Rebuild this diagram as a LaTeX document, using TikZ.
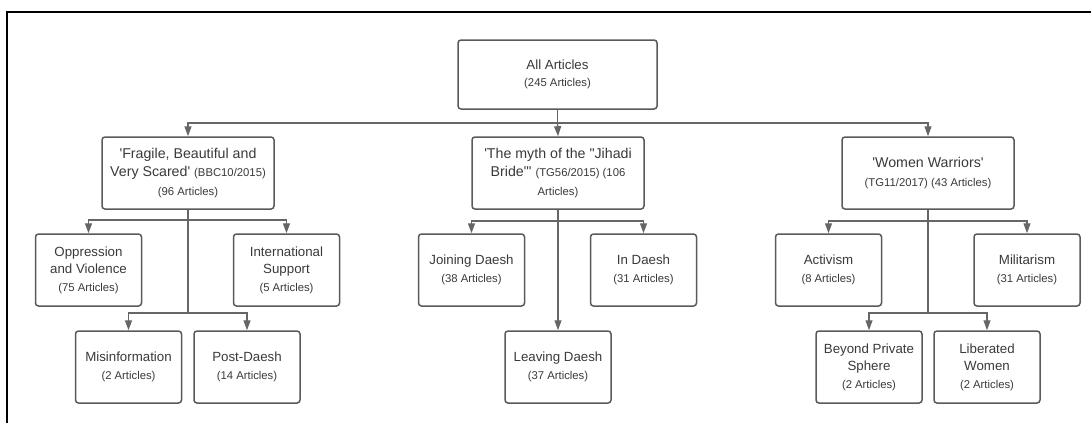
\documentclass[tikz,border=0pt]{standalone}
\usepackage{fontspec}
\setmainfont{Liberation Sans}
\usetikzlibrary{arrows.meta}
\definecolor{boxc}{HTML}{5A5A5A}
\definecolor{linec}{HTML}{666666}
\definecolor{txt}{HTML}{3A3A3A}
\newcommand\bigf{\fontsize{14.2}{18.5}\selectfont}
\newcommand\midf{\fontsize{13.3}{17.5}\selectfont}
\newcommand\smf{\fontsize{11.3}{17.5}\selectfont}
\newcommand\sq{\textquotesingle}
\newcommand\dq{\textquotedbl}
\tikzset{
  box/.style={draw=boxc, line width=1.5pt, rounded corners=3pt, fill=white,
    align=center, text=txt, inner sep=0pt, font=\fontsize{13.3}{17.5}\selectfont},
  rootbox/.style={box, minimum width=199pt, minimum height=69pt},
  topicbox/.style={box, minimum width=172pt, minimum height=72pt,
    font=\fontsize{14.2}{18.5}\selectfont},
  subbox/.style={box, minimum width=106pt, minimum height=72pt},
  conn/.style={draw=linec, line width=1.3pt},
  arr/.style={conn, -{Triangle[width=7pt,length=10pt]}}
}
\begin{document}
\begin{tikzpicture}[x=1pt,y=-1pt]
\useasboundingbox (0,0) rectangle (1091,423);
% frame
\draw[black, line width=2pt] (7,423) -- (7,12) -- (1091,12);

% nodes
\node[rootbox] (root) at (557.5,74.5) {All Articles\\\smf (245 Articles)};

\node[topicbox] (fr) at (188,173) {\sq Fragile, Beautiful and\\Very Scared\sq{} {\smf (BBC10/2015)}\\\smf (96 Articles)};
\node[topicbox] (my) at (558,173) {\sq The myth of the \dq Jihadi\\Bride\dq\sq{} {\smf (TG56/2015) (106}\\\smf Articles)};
\node[topicbox] (ww) at (928,173) {\sq Women Warriors\sq\\\smf (TG11/2017) (43 Articles)};

\node[subbox] (opp) at (88.5,270) {Oppression\\and Violence\\\smf (75 Articles)};
\node[subbox] (intl) at (286.5,270) {International\\Support\\\smf (5 Articles)};
\node[subbox] (mis) at (128.5,367) {Misinformation\\\smf (2 Articles)};
\node[subbox] (post) at (247,367) {Post-Daesh\\\smf (14 Articles)};

\node[subbox] (join) at (471.5,270) {Joining Daesh\\\smf (38 Articles)};
\node[subbox] (ind) at (643.5,270) {In Daesh\\\smf (31 Articles)};
\node[subbox] (leave) at (558,367) {Leaving Daesh\\\smf (37 Articles)};

\node[subbox] (act) at (828.5,270) {Activism\\\smf (8 Articles)};
\node[subbox] (mil) at (1027,270) {Militarism\\\smf (31 Articles)};
\node[subbox] (bey) at (869,367) {Beyond Private\\Sphere\\\smf (2 Articles)};
\node[subbox] (lib) at (987,367) {Liberated\\Women\\\smf (2 Articles)};

% junction coordinates
\coordinate (j0) at (557.5,123);
\coordinate (ja) at (188,220);
\coordinate (jab) at (188,313);
\coordinate (jb) at (558,221);
\coordinate (jc) at (928,221);
\coordinate (jcb) at (928,313);

% connectors
\draw[conn] (root.south) -- (j0);
\draw[arr] (j0) -| (fr.north);
\draw[arr] (j0) -- (my.north);
\draw[arr] (j0) -| (ww.north);

\draw[conn] (fr.south) -- (jab);
\draw[arr] (ja) -| (opp.north);
\draw[arr] (ja) -| (intl.north);
\draw[arr] (jab) -| (mis.north);
\draw[arr] (jab) -| (post.north);

\draw[arr] (my.south) -- (leave.north);
\draw[arr] (jb) -| (join.north);
\draw[arr] (jb) -| (ind.north);

\draw[conn] (ww.south) -- (jcb);
\draw[arr] (jc) -| (act.north);
\draw[arr] (jc) -| (mil.north);
\draw[arr] (jcb) -| (bey.north);
\draw[arr] (jcb) -| (lib.north);
\end{tikzpicture}
\end{document}
